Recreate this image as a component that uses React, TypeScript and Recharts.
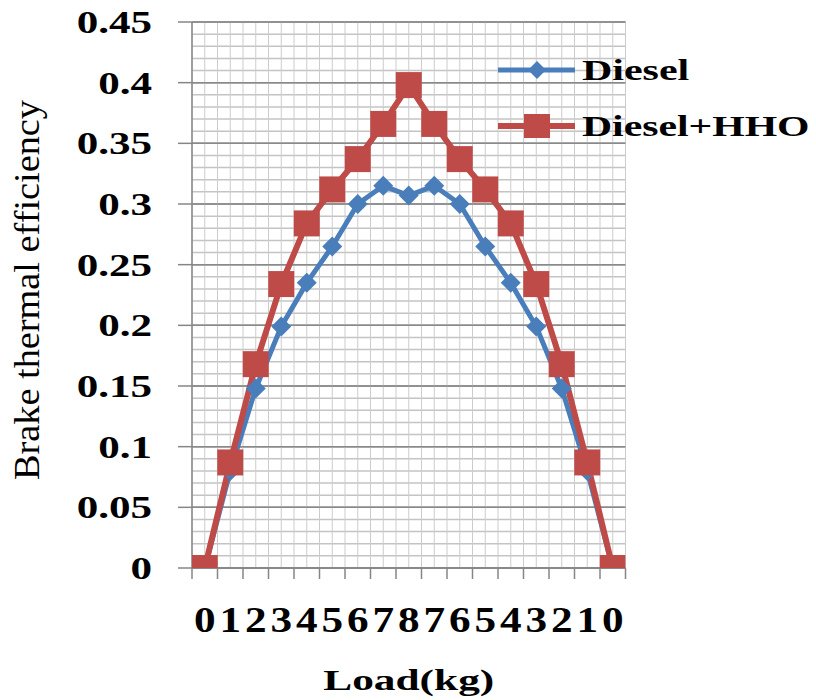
import React from "react";
import { CartesianGrid, Legend, Line, LineChart, XAxis, YAxis } from "recharts";

const loads = ["0", "1", "2", "3", "4", "5", "6", "7", "8", "7", "6", "5", "4", "3", "2", "1", "0"];
const diesel = [0, 0.08, 0.148, 0.199, 0.235, 0.265, 0.3, 0.315, 0.307, 0.315, 0.3, 0.265, 0.235, 0.199, 0.148, 0.08, 0];
const dieselHHO = [0, 0.087, 0.168, 0.234, 0.284, 0.312, 0.337, 0.366, 0.398, 0.366, 0.337, 0.312, 0.284, 0.234, 0.168, 0.087, 0];
const yTickLabels = ["0", "0.05", "0.1", "0.15", "0.2", "0.25", "0.3", "0.35", "0.4", "0.45"];
const seriesNames = ["Diesel", "Diesel+HHO"];

const data = loads.map((load, i) => ({ pos: i, load, diesel: diesel[i], hho: dieselHHO[i] }));

// gridlines every 0.01 on y (labels every 0.05), every half category on x
const yGridTicks = Array.from({ length: 46 }, (_, i) => i / 100);
const xGridTicks = Array.from({ length: 35 }, (_, i) => i / 2 - 0.5);

const SERIF = "Liberation Serif, Times New Roman, Times, serif";
const BLUE = "#4A7EBB";
const RED = "#BE4B48";
const AXIS = "#868686";

function YTick({ x, y, payload }: any) {
  const k = Math.round(payload.value * 100);
  if (k % 5 !== 0) return <g />;
  return (
    <g>
      <line x1={x - 14} x2={x} y1={y} y2={y} stroke={AXIS} strokeWidth={1.5} />
      <g transform={`translate(${x - 40},${y}) scale(1.39,1)`}>
        <text textAnchor="end" dy="0.35em" style={{ fontFamily: SERIF }} fontSize={31} fontWeight="bold" fill="#000">
          {yTickLabels[k / 5]}
        </text>
      </g>
    </g>
  );
}

// labels at category centres, tick marks on the boundaries between them
function XTick({ x, y, payload }: any) {
  const v = payload.value;
  if (!Number.isInteger(v)) {
    return <line x1={x} x2={x} y1={y} y2={y + 11} stroke={AXIS} strokeWidth={1.5} />;
  }
  return (
    <g transform={`translate(${x},${y + 51}) scale(1.2,1)`}>
      <text textAnchor="middle" dy="0.35em" style={{ fontFamily: SERIF }} fontSize={36} fontWeight="bold" fill="#000">
        {loads[v]}
      </text>
    </g>
  );
}

function XTitle({ viewBox }: any) {
  const cx = viewBox.x + viewBox.width / 2;
  return (
    <text x={cx} y={viewBox.y + 122} textAnchor="middle" style={{ fontFamily: SERIF }} fontSize={30} fontWeight="bold"
      textLength={171} lengthAdjust="spacingAndGlyphs" fill="#000">
      Load(kg)
    </text>
  );
}

function YTitle({ viewBox }: any) {
  const cy = viewBox.y + viewBox.height / 2 - 5;
  return (
    <text transform={`translate(28,${cy}) rotate(-90)`} textAnchor="middle" dy="0.32em" style={{ fontFamily: SERIF }}
      fontSize={35} textLength={380} lengthAdjust="spacingAndGlyphs" fill="#000">
      Brake thermal efficiency
    </text>
  );
}

function Diamond({ cx, cy }: any) {
  if (cx == null || cy == null) return <g />;
  const r = 10;
  return <polygon points={`${cx},${cy - r} ${cx + r},${cy} ${cx},${cy + r} ${cx - r},${cy}`} fill={BLUE} />;
}

function Square({ cx, cy }: any) {
  if (cx == null || cy == null) return <g />;
  return <rect x={cx - 13} y={cy - 13} width={26} height={26} fill={RED} />;
}

function LegendBox() {
  return (
    <svg width={326} height={120} style={{ display: "block", overflow: "visible" }}>
      <line x1={8} x2={85} y1={30} y2={30} stroke={BLUE} strokeWidth={5} />
      <polygon points="47,21 56,30 47,39 38,30" fill={BLUE} />
      <g transform="translate(92,40) scale(1.4,1)">
        <text style={{ fontFamily: SERIF }} fontSize={30} fontWeight="bold" fill="#000">{seriesNames[0]}</text>
      </g>
      <line x1={8} x2={85} y1={86} y2={86} stroke={RED} strokeWidth={6} />
      <rect x={34} y={74} width={26} height={24} fill={RED} />
      <g transform="translate(92,96) scale(1.39,1)">
        <text style={{ fontFamily: SERIF }} fontSize={30} fontWeight="bold" fill="#000">{seriesNames[1]}</text>
      </g>
    </svg>
  );
}

function gridLine(dark: boolean) {
  return (p: any) => {
    const major = p.index % 5 === 0;
    if (dark && !major) return <g key={p.key ?? p.index} />;
    return (
      <line key={p.key ?? p.index} x1={p.x1} y1={p.y1} x2={p.x2} y2={p.y2}
        stroke={major ? "#8A8A8A" : "#C4C4C4"} strokeWidth={1.5} />
    );
  };
}

export default function App() {
  return (
    <div style={{ position: "absolute", left: 0, top: 0, background: "#fff" }}>
      <LineChart width={816} height={700} data={data} margin={{ top: 22, right: 190.5, bottom: 0, left: 0 }}>
        <XAxis dataKey="pos" type="number" domain={[-0.5, 16.5]} ticks={xGridTicks} allowDataOverflow height={132}
          interval={0} tickSize={0} tickMargin={0} tickLine={false}
          axisLine={{ stroke: AXIS, strokeWidth: 1.5 }} tick={<XTick />} label={<XTitle />} />
        <YAxis type="number" domain={[0, 0.45]} ticks={yGridTicks} allowDataOverflow interval={0} width={192}
          tickSize={0} tickMargin={0} tickLine={false}
          axisLine={{ stroke: AXIS, strokeWidth: 1.5 }} tick={<YTick />} label={<YTitle />} />
        <CartesianGrid horizontal={gridLine(false)} vertical={{ stroke: "#C4C4C4", strokeWidth: 1.5 }} />
        <CartesianGrid horizontal={gridLine(true)} vertical={false} />
        <Line type="linear" dataKey="diesel" name={seriesNames[0]} stroke={BLUE}
          strokeWidth={5} dot={(p: any) => <Diamond key={`d${p.index}`} {...p} />} activeDot={false}
          isAnimationActive={false} />
        <Line type="linear" dataKey="hho" name={seriesNames[1]} stroke={RED}
          strokeWidth={6} dot={(p: any) => <Square key={`s${p.index}`} {...p} />} activeDot={false}
          isAnimationActive={false} />
        <Legend layout="vertical" align="center" verticalAlign="middle" content={() => <LegendBox />}
          wrapperStyle={{ left: 490, top: 40, width: 326, height: 120 }} />
      </LineChart>
    </div>
  );
}
